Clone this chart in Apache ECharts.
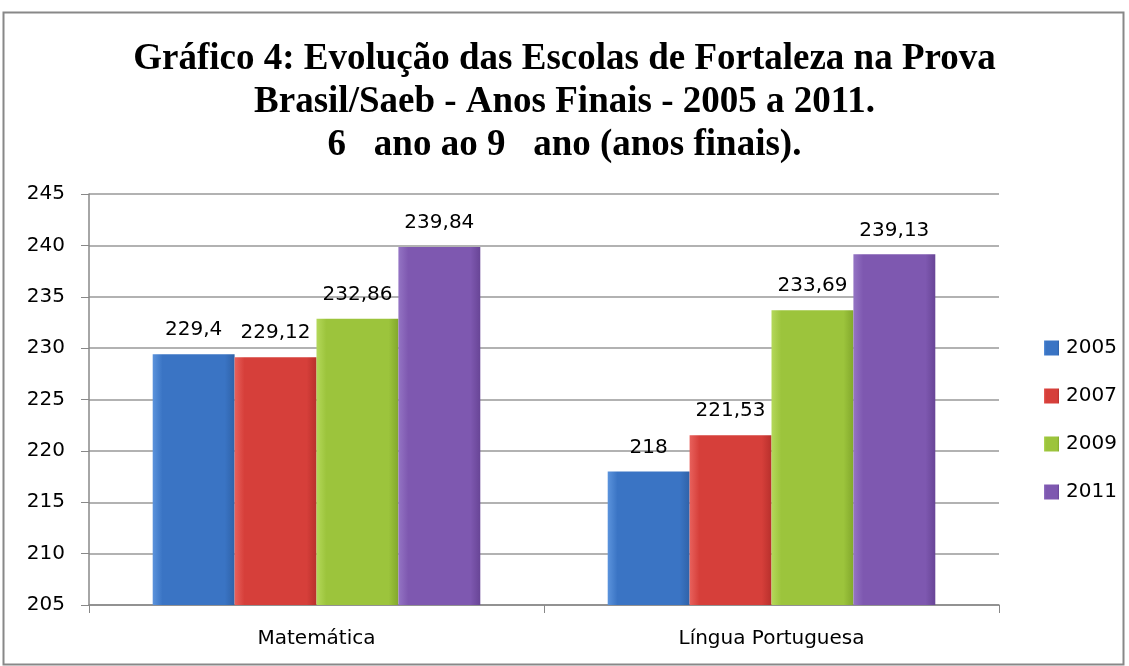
<!DOCTYPE html>
<html><head><meta charset="utf-8">
<script src="https://cdn.jsdelivr.net/npm/echarts@6/dist/echarts.min.js"></script>
<style>html,body{margin:0;padding:0;background:#fff}#c{width:1129px;height:666px}</style>
</head><body><div id="c"></div>
<script>
const categories = ['Matemática', 'Língua Portuguesa'];
const years = ['2005', '2007', '2009', '2011'];
const v2005 = [229.4, 218];
const v2007 = [229.12, 221.53];
const v2009 = [232.86, 233.69];
const v2011 = [239.84, 239.13];
const yTicks = {min: 205, max: 245, interval: 5};

const values = [v2005, v2007, v2009, v2011];
const colors = [
  ['#5b93dc', '#3a74c4', '#2f62a8'],
  ['#e8615c', '#d63f3a', '#b8302c'],
  ['#b4d85a', '#9cc43c', '#82a82c'],
  ['#9474c4', '#7e58b0', '#684596']
];
function grad(c) {
  return new echarts.graphic.LinearGradient(0, 0, 1, 0, [
    {offset: 0, color: c[0]}, {offset: 0.12, color: c[1]},
    {offset: 0.88, color: c[1]}, {offset: 1, color: c[2]}
  ]);
}
const font = 'DejaVu Sans';
const chart = echarts.init(document.getElementById('c'));
chart.setOption({
  animation: false,
  title: {
    text: 'Gráfico 4: Evolução das Escolas de Fortaleza na Prova\nBrasil/Saeb - Anos Finais - 2005 a 2011.\n6   ano ao 9   ano (anos finais).',
    left: 'center', top: 33,
    textStyle: {fontFamily: 'Liberation Serif', fontWeight: 'bold', fontSize: 37, lineHeight: 43, color: '#000'}
  },
  legend: {
    orient: 'vertical', left: 1039, top: 331, itemGap: 24,
    itemWidth: 15, itemHeight: 15, icon: 'rect',
    textStyle: {fontFamily: font, fontSize: 20, lineHeight: 24, color: '#000', padding: [0, 0, 0, 2]},
    data: years
  },
  grid: {left: 89, right: 130, top: 194, bottom: 61, containLabel: false},
  xAxis: {
    type: 'category', data: categories,
    axisLine: {lineStyle: {color: '#888', width: 1.5}},
    axisTick: {show: true, length: 8, lineStyle: {color: '#888'}},
    axisLabel: {fontFamily: font, fontSize: 20, color: '#000', margin: 24}
  },
  yAxis: {
    type: 'value', min: yTicks.min, max: yTicks.max, interval: yTicks.interval,
    axisLine: {show: true, lineStyle: {color: '#888', width: 1.5}},
    axisTick: {show: true, length: 8, lineStyle: {color: '#888'}},
    splitLine: {lineStyle: {color: '#999', width: 1.5}},
    axisLabel: {fontFamily: font, fontSize: 20, color: '#000', margin: 24}
  },
  series: years.map((y, i) => ({
    name: y, type: 'bar', data: values[i],
    barGap: '0%', barCategoryGap: '28%',
    itemStyle: {color: grad(colors[i])},
    label: {show: true, position: 'top', distance: 14, fontFamily: font, fontSize: 20, color: '#000',
      formatter: p => String(p.value).replace('.', ',')}
  })),
  graphic: [{
    type: 'rect', shape: {x: 3.5, y: 12.5, width: 1120, height: 652},
    style: {fill: 'none', stroke: '#888', lineWidth: 2}, silent: true
  }]
});
</script></body></html>
